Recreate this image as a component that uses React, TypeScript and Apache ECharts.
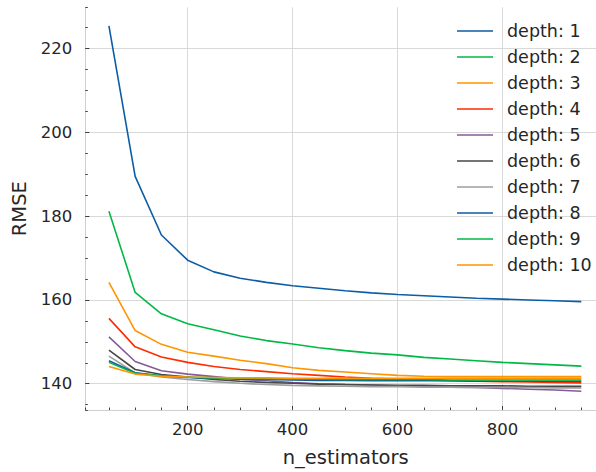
import React, { useEffect, useRef } from "react";
import * as echarts from "echarts";

const nEstimators = [50, 100, 150, 200, 250, 300, 350, 400, 450, 500, 550, 600, 650, 700, 750, 800, 850, 900, 950];

const depth1 = [225.4, 189.5, 175.5, 169.5, 166.7, 165.2, 164.2, 163.4, 162.8, 162.2, 161.7, 161.3, 161.0, 160.7, 160.4, 160.2, 160.0, 159.8, 159.6];
const depth2 = [181.2, 161.8, 156.7, 154.3, 152.9, 151.4, 150.3, 149.5, 148.6, 147.9, 147.3, 146.9, 146.3, 145.9, 145.5, 145.1, 144.8, 144.5, 144.2];
const depth3 = [164.2, 152.7, 149.4, 147.5, 146.6, 145.6, 144.8, 143.8, 143.2, 142.8, 142.4, 142.0, 141.8, 141.7, 141.7, 141.7, 141.7, 141.7, 141.7];
const depth4 = [155.6, 148.8, 146.4, 145.1, 144.1, 143.4, 142.9, 142.4, 142.0, 141.6, 141.3, 141.1, 140.9, 140.7, 140.6, 140.5, 140.4, 140.3, 140.2];
const depth5 = [151.2, 145.3, 143.1, 142.3, 141.7, 141.1, 140.7, 140.3, 140.0, 139.8, 139.7, 139.5, 139.4, 139.2, 139.1, 138.9, 138.7, 138.5, 138.2];
const depth6 = [148.0, 143.4, 142.2, 141.6, 141.0, 140.6, 140.3, 140.1, 139.9, 139.8, 139.7, 139.6, 139.6, 139.5, 139.5, 139.5, 139.4, 139.4, 139.4];
const depth7 = [146.6, 142.6, 141.6, 141.0, 140.5, 140.1, 139.8, 139.6, 139.5, 139.4, 139.3, 139.3, 139.2, 139.2, 139.1, 139.1, 139.1, 139.0, 139.0];
const depth8 = [145.5, 142.6, 141.9, 141.5, 141.3, 141.1, 141.0, 140.9, 140.8, 140.8, 140.7, 140.7, 140.7, 140.7, 140.6, 140.6, 140.6, 140.6, 140.6];
const depth9 = [145.1, 142.5, 141.9, 141.6, 141.4, 141.3, 141.2, 141.1, 141.1, 141.0, 141.0, 141.0, 141.0, 140.9, 140.9, 140.9, 140.9, 140.9, 140.9];
const depth10 = [144.1, 142.3, 141.8, 141.6, 141.5, 141.4, 141.4, 141.3, 141.3, 141.3, 141.3, 141.3, 141.3, 141.3, 141.3, 141.3, 141.3, 141.3, 141.3];

const seriesNames = ["depth: 1", "depth: 2", "depth: 3", "depth: 4", "depth: 5", "depth: 6", "depth: 7", "depth: 8", "depth: 9", "depth: 10"];
const seriesValues = [depth1, depth2, depth3, depth4, depth5, depth6, depth7, depth8, depth9, depth10];
const palette = ["#0C5DA5", "#00B945", "#FF9500", "#FF2C00", "#845B97", "#474747", "#9e9e9e"];

const X_MIN = 5;
const X_MAX = 978;
const Y_MIN = 133.73;
const Y_MAX = 229.86;

const FONT = "DejaVu Sans";
const TEXT = "#262626";
const GRID = "#d9d9d9";
const SPINE = "#cfcfcf";

export default function App() {
  const ref = useRef<HTMLDivElement>(null);
  useEffect(() => {
    if (!ref.current) return;
    const chart = echarts.init(ref.current, undefined, { renderer: "svg" });
    const option: any = {
      animation: false,
      backgroundColor: "#ffffff",
      color: seriesNames.map((_, i) => palette[i % palette.length]),
      textStyle: { fontFamily: FONT },
      grid: { left: 85.3, right: 0, top: 7.3, bottom: 55.3, containLabel: false },
      legend: {
        orient: "vertical",
        left: 452,
        top: 16,
        icon: "rect",
        itemWidth: 36,
        itemHeight: 1.6,
        itemGap: 6,
        data: seriesNames,
        textStyle: { fontFamily: FONT, fontSize: 17.5, color: TEXT, lineHeight: 20, padding: [0, 0, 0, 9] },
      },
      xAxis: [
        {
          type: "value",
          min: X_MIN,
          max: X_MAX,
          minInterval: 200,
          maxInterval: 200,
          name: "n_estimators",
          nameLocation: "middle",
          nameGap: 37,
          nameTextStyle: { fontFamily: FONT, fontSize: 19.5, color: TEXT, padding: [0, 0, 0, 10] },
          axisLine: { show: true, lineStyle: { color: SPINE, width: 1 } },
          axisTick: { show: true, inside: true, length: 4, lineStyle: { color: "#333333", width: 1 } },
          axisLabel: {
            show: true,
            margin: 11,
            fontFamily: FONT,
            fontSize: 16.5,
            color: TEXT,
            showMinLabel: false,
            showMaxLabel: false,
            formatter: (v: number) => (Math.abs(v % 200) < 1e-6 ? String(v) : ""),
          },
          splitLine: { show: true, showMinLine: false, showMaxLine: false, lineStyle: { color: GRID, width: 1 } },
        },
        {
          type: "value",
          min: X_MIN,
          max: X_MAX,
          minInterval: 50,
          maxInterval: 50,
          position: "bottom",
          axisLine: { show: false },
          axisTick: { show: true, inside: true, length: 2.5, lineStyle: { color: "#444444", width: 1 } },
          axisLabel: { show: false },
          splitLine: { show: false },
        },
      ],
      yAxis: [
        {
          type: "value",
          min: Y_MIN,
          max: Y_MAX,
          minInterval: 20,
          maxInterval: 20,
          name: "RMSE",
          nameLocation: "middle",
          nameGap: 51,
          nameTextStyle: { fontFamily: FONT, fontSize: 19.5, color: TEXT },
          axisLine: { show: true, lineStyle: { color: SPINE, width: 1 } },
          axisTick: { show: true, inside: true, length: 4, lineStyle: { color: "#333333", width: 1 } },
          axisLabel: {
            show: true,
            margin: 13,
            fontFamily: FONT,
            fontSize: 16.5,
            color: TEXT,
            showMinLabel: false,
            showMaxLabel: false,
            formatter: (v: number) => (Math.abs(v % 20) < 1e-6 ? String(v) : ""),
          },
          splitLine: { show: true, showMinLine: false, showMaxLine: false, lineStyle: { color: GRID, width: 1 } },
        },
        {
          type: "value",
          min: Y_MIN,
          max: Y_MAX,
          minInterval: 5,
          maxInterval: 5,
          position: "left",
          axisLine: { show: false },
          axisTick: { show: true, inside: true, length: 2.5, lineStyle: { color: "#444444", width: 1 } },
          axisLabel: { show: false },
          splitLine: { show: false },
        },
      ],
      series: seriesNames.map((name, i) => ({
        name,
        type: "line",
        xAxisIndex: 0,
        yAxisIndex: 0,
        symbol: "none",
        showSymbol: false,
        lineStyle: { width: 1.6 },
        data: nEstimators.map((x, j) => [x, seriesValues[i][j]]),
      })),
    };
    chart.setOption(option);
    return () => chart.dispose();
  }, []);
  return (
    <div
      ref={ref}
      style={{ position: "fixed", left: 0, top: 0, width: 596, height: 472, background: "#ffffff" }}
    />
  );
}
